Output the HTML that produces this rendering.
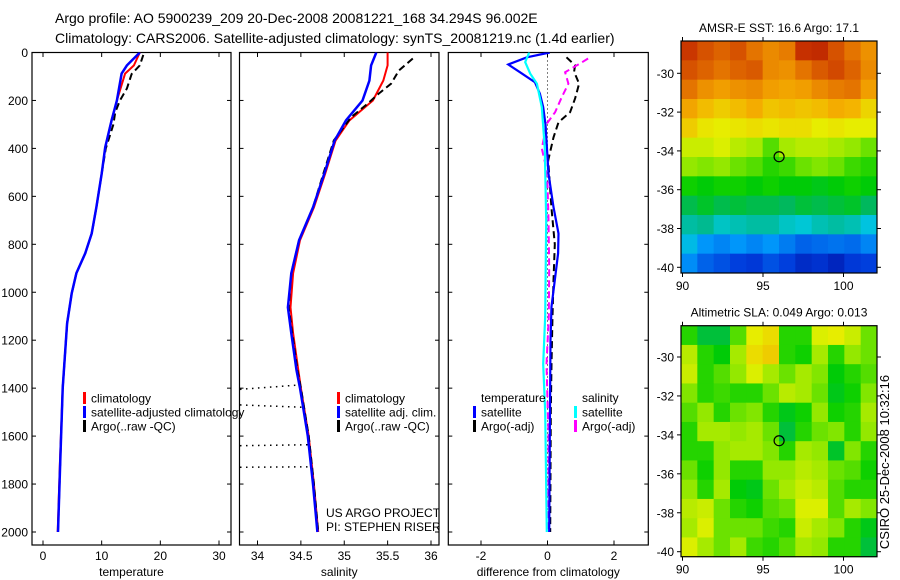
<!DOCTYPE html>
<html><head><meta charset="utf-8">
<style>
html,body{margin:0;padding:0;background:#fff;}
svg{display:block;font-family:"Liberation Sans",sans-serif;}
</style></head>
<body>
<svg id="fig" width="900" height="580" viewBox="0 0 900 580" xmlns="http://www.w3.org/2000/svg">
<rect width="900" height="580" fill="#fff"/>
<text x="55" y="23" font-size="14">Argo profile: AO 5900239_209 20-Dec-2008 20081221_168 34.294S 96.002E</text>
<text x="55" y="43" font-size="14">Climatology: CARS2006. Satellite-adjusted climatology: synTS_20081219.nc (1.4d earlier)</text>
<text x="889" y="462" font-size="13" text-anchor="middle" transform="rotate(-90 889 462)">CSIRO 25-Dec-2008 10:32:16</text>
</svg>
<script>
// ---------- data ----------
const tDepthClim = [0,54,88,200,283,396,505,645,755,838,920,1005,1130,1400,1700,2000];
const tempClim   = [16.5,15.5,14.0,12.6,11.7,10.6,10.0,9.1,8.3,7.2,5.7,4.9,4.1,3.35,2.9,2.5];
const tempSat    = [16.5,14.3,13.4,12.6,11.7,10.6,10.0,9.1,8.3,7.2,5.7,4.9,4.1,3.35,2.95,2.55];
const tDepthArgo = [10,54,90,150,200,250,300,400,505,645,755,838,920,1005,1130,1400,1700,2000];
const tempArgo   = [17.1,16.5,15.1,14.3,13.1,12.3,12.0,10.7,10.0,9.1,8.3,7.2,5.7,4.9,4.1,3.35,2.95,2.55];

const sDepth    = [0,54,117,200,283,367,505,646,783,921,1063,1171,1325,1400,1600,1800,2000];
const salClim   = [35.50,35.50,35.45,35.33,35.06,34.90,34.78,34.65,34.49,34.41,34.38,34.41,34.47,34.50,34.59,34.65,34.70];
const salSat    = [35.37,35.31,35.29,35.21,35.02,34.89,34.77,34.64,34.48,34.39,34.35,34.39,34.45,34.49,34.58,34.64,34.69];
const sDepthArgo= [25,75,130,171,213,270,367,505,646,783,921,1063,1171,1325,1400,1600,1800,2000];
const salArgo   = [35.79,35.63,35.54,35.40,35.27,35.08,34.88,34.76,34.64,34.48,34.39,34.36,34.40,34.46,34.50,34.59,34.65,34.70];
const dotDepthL = [1405,1470,1640,1730];
const dotDepthR = [1387,1480,1636,1728];
const dotSalEnd = [34.47,34.55,34.60,34.62];

const dTDepth  = [0,20,50,82,124,172,228,300,505,645,755,838,950,1060,1200,1600,2000];
const dTSat    = [0.07,-0.62,-1.18,-0.83,-0.38,-0.23,-0.13,-0.06,0.03,0.18,0.33,0.32,0.22,0.12,0.09,0.07,0.05];
const dSDepth  = [0,40,88,130,228,400,700,1100,1300,1500,2000];
const dSSat    = [-0.55,-0.67,-0.52,-0.32,-0.17,-0.08,-0.04,-0.07,-0.13,-0.07,-0.02];
const dTADepth = [20,54,80,130,192,249,291,354,450,650,800,950,1100,1300,1500,2000];
const dTArgo   = [0.57,0.83,0.8,0.95,0.83,0.68,0.33,0.18,0.02,0.12,0.22,0.18,0.15,0.12,0.10,0.08];
const dSADepth = [25,46,82,130,186,249,297,400,463,550,700,900,1100,1300,1600,1800,2000];
const dSArgo   = [1.22,0.98,0.53,0.63,0.43,0.23,-0.02,-0.17,-0.07,0.0,0.03,0.05,0.04,-0.03,0.03,0.03,0.0];

const depthTicks = [0,200,400,600,800,1000,1200,1400,1600,1800,2000];
const tempTicks = [0,10,20,30];
const salTicks = [34,34.5,35,35.5,36];
const salTickLabels = ["34","34.5","35","35.5","36"];
const diffTicks = [-2,0,2];
const lonTicks = [90,95,100];
const latTicks = [-30,-32,-34,-36,-38,-40];

const sstGrid = [
[19.3,19.0,18.8,19.0,18.6,18.3,18.5,19.4,19.5,19.0,18.6,18.2],
[19.0,18.8,18.6,18.8,18.9,18.3,18.2,18.6,18.9,19.1,18.8,18.3],
[18.6,18.2,18.0,18.2,18.3,18.0,17.9,18.0,18.3,18.5,18.6,18.0],
[17.9,17.6,17.4,17.6,17.8,17.5,17.6,17.5,17.6,17.8,17.7,17.3],
[17.4,17.1,17.0,17.1,17.2,17.1,17.2,17.2,17.0,17.1,17.0,17.0],
[16.8,16.8,16.9,16.7,16.6,16.2,16.6,16.7,16.7,16.6,16.5,16.3],
[16.5,16.4,16.5,16.3,16.2,16.0,16.1,16.3,16.4,16.3,16.1,16.0],
[15.9,15.8,15.9,15.9,15.8,15.9,15.8,15.8,15.7,15.8,15.9,15.8],
[15.4,15.6,15.4,15.5,15.4,15.4,15.3,15.5,15.4,15.5,15.6,15.3],
[14.9,15.0,14.7,14.8,14.9,14.9,14.7,14.6,14.8,14.9,14.8,14.5],
[14.4,14.0,13.8,14.0,13.8,14.0,13.7,13.4,13.5,13.6,13.5,13.8],
[13.9,13.4,13.2,13.0,12.9,13.2,13.0,12.7,12.8,12.6,12.9,13.0]];
const slaGrid = [
[0.0,-0.05,-0.05,0.02,0.10,0.12,0.0,0.0,0.09,0.10,0.08,0.03],
[0.07,0.0,-0.02,0.06,0.12,0.14,0.0,-0.01,0.06,0.0,0.05,0.03],
[0.08,0.0,0.02,0.05,0.09,0.06,0.03,0.06,0.04,-0.02,0.0,0.02],
[0.04,0.0,0.01,0.0,0.0,0.03,0.07,0.06,0.03,-0.03,-0.01,0.04],
[0.02,0.05,0.0,0.03,0.04,0.0,-0.03,-0.01,0.05,-0.01,0.0,0.06],
[0.0,0.06,0.06,0.05,0.06,0.03,-0.05,0.0,0.03,0.04,0.0,0.05],
[0.0,0.0,0.05,0.06,0.06,0.04,0.0,0.06,0.05,-0.04,0.04,0.0],
[0.03,-0.01,0.05,0.0,0.0,0.05,0.05,0.07,0.06,0.03,0.02,-0.01],
[0.05,0.0,0.06,-0.02,-0.03,0.03,0.06,0.08,0.07,0.02,0.0,0.0],
[0.07,0.08,0.03,0.0,-0.01,0.02,0.03,0.09,0.09,0.02,0.06,0.04],
[0.06,0.09,0.03,0.03,0.03,0.01,0.0,0.08,0.06,0.04,0.0,-0.03],
[0.09,0.06,0.03,0.06,0.01,0.0,0.02,0.06,0.05,0.0,0.0,-0.05]];
const argoLon = 96.0;
const argoLat = -34.3;

// ---------- helpers ----------
const NS = "http://www.w3.org/2000/svg";
const svg = document.getElementById('fig');
function mk(tag, attrs, parent){
  const e = document.createElementNS(NS, tag);
  for (const k in attrs) e.setAttribute(k, attrs[k]);
  (parent||svg).appendChild(e);
  return e;
}
function lin(d0,d1,r0,r1){ return v => r0 + (v-d0)*(r1-r0)/(d1-d0); }
const yDepth = lin(0,2000,52.5,532);
const xTemp = lin(0,30,43,219);
const xSal = lin(34,36,257.5,431);
const xDiff = lin(0,2,547.5,614);

function pathFrom(xs, ds, xf, yf){
  return xs.map((v,i)=>(i?'L':'M')+xf(v).toFixed(1)+','+yf(ds[i]).toFixed(1)).join(' ');
}
function drawLine(name, xs, ds, xf, color, w, dash, clip){
  const p = mk('path',{d:pathFrom(xs,ds,xf,yDepth),fill:'none',stroke:color,'stroke-width':w,'stroke-dasharray':dash||'none','clip-path':clip});
  
  
  return p;
}

function panel(id, x0, x1, xf, ticks, labels, xlabel){
  const g = mk('g',{});
  
  
  const cp = mk('clipPath',{id:'clip-'+id}, g);
  mk('rect',{x:x0,y:52.5,width:x1-x0,height:545-52.5},cp);
  mk('rect',{x:x0,y:52.5,width:x1-x0,height:545-52.5,fill:'none',stroke:'#000','stroke-width':1.2},g);
  depthTicks.forEach(d=>{
    const y = yDepth(d);
    mk('line',{x1:x0,x2:x0+4,y1:y,y2:y,stroke:'#000'},g);
    mk('line',{x1:x1,x2:x1-4,y1:y,y2:y,stroke:'#000'},g);
  });
  ticks.forEach((t,i)=>{
    const x = xf(t);
    mk('line',{x1:x,x2:x,y1:52.5,y2:57,stroke:'#000'},g);
    mk('line',{x1:x,x2:x,y1:545,y2:540.5,stroke:'#000'},g);
    const tl = mk('text',{x:x,y:560,'font-size':12,'text-anchor':'middle'},g);
    tl.textContent = labels[i];
    
    
  });
  const xl = mk('text',{x:(x0+x1)/2,y:576,'font-size':12,'text-anchor':'middle'},g);
  xl.textContent = xlabel;
  
  
  return 'url(#clip-'+id+')';
}
function legend(name, x, y, color, label){
  const b = mk('rect',{x:x,y:y-6,width:3,height:12,fill:color});
  
  
  const t = mk('text',{x:x+8,y:y+4.5,'font-size':12});
  t.textContent = label;
  
  
}

depthTicks.forEach(d=>{
  const t = mk('text',{x:28,y:yDepth(d)+4.5,'font-size':12,'text-anchor':'end'});
  t.textContent = String(d);
  
  
});

// panel 1 temperature
const c1 = panel('temperature-panel', 32, 231, xTemp, tempTicks, tempTicks.map(String), 'temperature');
drawLine('temp-climatology-line', tempClim, tDepthClim, xTemp, '#f00', 2, null, c1);
drawLine('temp-argo-line', tempArgo, tDepthArgo, xTemp, '#000', 2, '7,4', c1);
drawLine('temp-satellite-line', tempSat, tDepthClim, xTemp, '#00f', 2.5, null, c1);
legend('legend-climatology', 83, 398, '#f00', 'climatology');
legend('legend-satellite-adjusted', 83, 412, '#00f', 'satellite-adjusted climatology');
legend('legend-argo', 83, 426, '#000', 'Argo(..raw -QC)');

// panel 2 salinity
const c2 = panel('salinity-panel', 239.5, 439, xSal, salTicks, salTickLabels, 'salinity');
dotDepthL.forEach((d,i)=>{
  const l = mk('line',{x1:240,y1:yDepth(d),x2:xSal(dotSalEnd[i]),y2:yDepth(dotDepthR[i]),stroke:'#000','stroke-width':1.5,'stroke-dasharray':'1.5,4.5'});
  
  
});
drawLine('sal-climatology-line', salClim, sDepth, xSal, '#f00', 2, null, c2);
drawLine('sal-argo-line', salArgo, sDepthArgo, xSal, '#000', 2, '7,4', c2);
drawLine('sal-satellite-line', salSat, sDepth, xSal, '#00f', 2.5, null, c2);
legend('legend-sal-climatology', 337, 398, '#f00', 'climatology');
legend('legend-sal-satellite', 337, 412, '#00f', 'satellite adj. clim.');
legend('legend-sal-argo', 337, 426, '#000', 'Argo(..raw -QC)');
const credit1 = mk('text',{x:326,y:517,'font-size':12,'clip-path':c2}); credit1.textContent='US ARGO PROJECT';


const credit2 = mk('text',{x:326,y:531,'font-size':12,'clip-path':c2}); credit2.textContent='PI: STEPHEN RISER';



// panel 3 difference
const c3 = panel('difference-panel', 448.3, 648.3, xDiff, diffTicks, diffTicks.map(String), 'difference from climatology');
const zl = mk('line',{x1:xDiff(0),x2:xDiff(0),y1:yDepth(0),y2:yDepth(1950),stroke:'#000','stroke-width':1,'stroke-dasharray':'1,3'});


drawLine('diff-temp-argo-line', dTArgo, dTADepth, xDiff, '#000', 2, '7,4', c3);
drawLine('diff-sal-argo-line', dSArgo, dSADepth, xDiff, '#f0f', 2, '7,4', c3);
drawLine('diff-temp-satellite-line', dTSat, dTDepth, xDiff, '#00f', 2.2, null, c3);
drawLine('diff-sal-satellite-line', dSSat, dSDepth, xDiff, '#0ff', 2.2, null, c3);
const lt = mk('text',{x:481,y:402,'font-size':12}); lt.textContent='temperature';


const ls = mk('text',{x:582,y:402,'font-size':12}); ls.textContent='salinity';


legend('legend-diff-temp-satellite', 473, 412, '#00f', 'satellite');
legend('legend-diff-temp-argo', 473, 426, '#000', 'Argo(-adj)');
legend('legend-diff-sal-satellite', 574, 412, '#0ff', 'satellite');
legend('legend-diff-sal-argo', 574, 426, '#f0f', 'Argo(-adj)');

// ---------- maps ----------
const cmStops = [0,0.12,0.25,0.32,0.40,0.48,0.55,0.62,0.72,0.82,0.92,1];
const cmRGB = [[0,0,140],[0,60,220],[0,150,250],[0,200,220],[0,180,110],[0,205,0],[130,230,0],[230,240,0],[245,175,0],[230,120,0],[200,50,0],[170,20,0]];
function cmap(t){
  t = Math.max(0, Math.min(1, t));
  let i = 0;
  while (i < cmStops.length-2 && t > cmStops[i+1]) i++;
  const f = (t - cmStops[i]) / (cmStops[i+1] - cmStops[i]);
  const a = cmRGB[i], b = cmRGB[i+1];
  return 'rgb('+[0,1,2].map(k=>Math.round(a[k]+(b[k]-a[k])*f)).join(',')+')';
}
const xLon = lin(90,100,682.5,843.5);
function drawMap(id, top, bottom, yLat, grid, cmin, cmax, title){
  const x0 = 681, x1 = 877;
  const g = mk('g',{});
  
  
  const rows = grid.length, cols = grid[0].length;
  const cw = (x1-x0)/cols, ch = (bottom-top)/rows;
  grid.forEach((row,r)=>row.forEach((v,c)=>{
    const cell = mk('rect',{x:(x0+c*cw).toFixed(2),y:(top+r*ch).toFixed(2),width:(cw+0.5).toFixed(2),height:(ch+0.5).toFixed(2),fill:cmap((v-cmin)/(cmax-cmin))},g);
    
    
  }));
  mk('rect',{x:x0,y:top,width:x1-x0,height:bottom-top,fill:'none',stroke:'#000','stroke-width':1.2},g);
  lonTicks.forEach(l=>{
    const x = xLon(l);
    mk('line',{x1:x,x2:x,y1:top,y2:top-4,stroke:'#000'},g);
    mk('line',{x1:x,x2:x,y1:bottom,y2:bottom+4,stroke:'#000'},g);
    const t = mk('text',{x:x,y:bottom+17,'font-size':12,'text-anchor':'middle'},g);
    t.textContent = String(l);
    
    
  });
  latTicks.forEach(l=>{
    const y = yLat(l);
    mk('line',{x1:x0,x2:x0-4,y1:y,y2:y,stroke:'#000'},g);
    mk('line',{x1:x1,x2:x1+4,y1:y,y2:y,stroke:'#000'},g);
    const t = mk('text',{x:674,y:y+4.5,'font-size':12,'text-anchor':'end'},g);
    t.textContent = String(l);
    
    
  });
  const c = mk('circle',{cx:xLon(argoLon),cy:yLat(argoLat),r:5,fill:'none',stroke:'#000','stroke-width':1.2},g);
  
  
  const tt = mk('text',{x:(x0+x1)/2,y:top-9,'font-size':12,'text-anchor':'middle'},g);
  tt.textContent = title;
  
  
}
drawMap('sst-map', 41, 273, lin(-30,-40,73.3,267.3), sstGrid, 12, 20, 'AMSR-E SST: 16.6 Argo: 17.1');
drawMap('sla-map', 325.7, 556.7, lin(-30,-40,357,551.7), slaGrid, -0.4, 0.4, 'Altimetric SLA: 0.049 Argo: 0.013');
</script>
</body></html>
